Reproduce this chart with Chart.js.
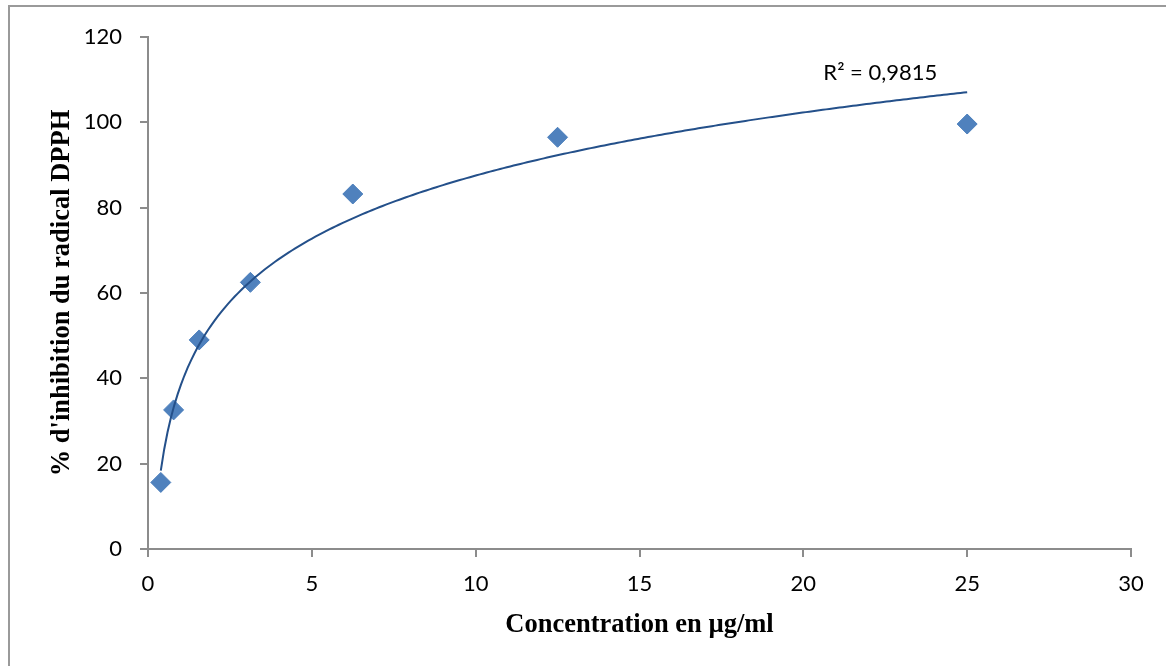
<!DOCTYPE html>
<html>
<head>
<meta charset="utf-8">
<script src="https://cdn.jsdelivr.net/npm/chart.js@4/dist/chart.umd.min.js"></script>
<style>
  html, body { margin: 0; padding: 0; background: #fff; }
  #wrap { position: relative; width: 1166px; height: 666px; overflow: hidden; }
  #frame { position: absolute; left: 8px; top: 5px; width: 1200px; height: 700px; border: 2px solid #9a9a9a; }
  canvas { position: absolute; left: 0; top: 0; }
</style>
</head>
<body>
<div id="wrap">
  <div id="frame"></div>
  <canvas id="c" width="1166" height="666"></canvas>
</div>
<script>
// concentrations (µg/ml) and % inhibition
const concentrations = [0.390625, 0.78125, 1.5625, 3.125, 6.25, 12.5, 25]
const inhibition = [15.6, 32.6, 49.0, 62.5, 83.2, 96.5, 99.6]
const r2Label = "R² = 0,9815"
const r2Pos = { x: 22.35, y: 111.6 }

const AXIS = "#8c8c8c"
const TICK_FONT = { family: "Lato, 'Open Sans', sans-serif", size: 22 }
const TITLE_FONT = { family: "'Liberation Serif', 'Times New Roman', serif", size: 26.5, weight: "bold" }

// logarithmic trendline y = a ln(x) + b, least squares on the points
function logFit(xs, ys) {
  const lx = xs.map(Math.log)
  const n = xs.length
  const mx = lx.reduce((s, v) => s + v, 0) / n
  const my = ys.reduce((s, v) => s + v, 0) / n
  let sxy = 0, sxx = 0
  lx.forEach((v, i) => { sxy += (v - mx) * (ys[i] - my); sxx += (v - mx) * (v - mx) })
  const a = sxy / sxx
  return { a, b: my - a * mx }
}

const fit = logFit(concentrations, inhibition)
const xStart = concentrations[0], xEnd = concentrations[concentrations.length - 1]
const trend = []
for (let i = 0; i <= 240; i++) {
  const x = xStart + (xEnd - xStart) * i / 240
  trend.push({ x, y: fit.a * Math.log(x) + fit.b })
}

const r2Plugin = {
  id: "r2",
  afterDatasetsDraw(chart) {
    const { ctx, scales } = chart
    ctx.save()
    ctx.font = `${TICK_FONT.size}px ${TICK_FONT.family}`
    ctx.fillStyle = "#000"
    ctx.textAlign = "center"
    ctx.textBaseline = "middle"
    ctx.fillText(r2Label, scales.x.getPixelForValue(r2Pos.x), scales.y.getPixelForValue(r2Pos.y))
    ctx.restore()
  }
}

new Chart(document.getElementById("c"), {
  type: "scatter",
  data: {
    datasets: [
      {
        label: "trend",
        data: trend,
        showLine: true,
        borderColor: "#24508a",
        borderWidth: 2,
        pointRadius: 0,
        tension: 0,
        fill: false
      },
      {
        label: "DPPH",
        data: concentrations.map((x, i) => ({ x, y: inhibition[i] })),
        pointStyle: "rectRot",
        pointRadius: 10,
        pointHoverRadius: 10,
        backgroundColor: "#4f81bd",
        borderColor: "#4a7ebb",
        borderWidth: 1,
        clip: false
      }
    ]
  },
  options: {
    responsive: false,
    animation: false,
    events: [],
    layout: { padding: { left: 0, top: 37, right: 35, bottom: 0 } },
    plugins: { legend: { display: false }, tooltip: { enabled: false } },
    scales: {
      x: {
        type: "linear",
        min: 0, max: 30,
        afterFit: s => { s.height = 117 },
        ticks: { stepSize: 5, color: "#000", font: TICK_FONT, padding: 14 },
        grid: { drawOnChartArea: false, drawTicks: true, tickLength: 8, color: AXIS, lineWidth: 2 },
        border: { color: AXIS, width: 2 },
        title: {
          display: true, text: "Concentration en µg/ml", color: "#000", font: TITLE_FONT,
          padding: { top: 0, bottom: 25 }
        }
      },
      y: {
        min: 0, max: 120,
        afterFit: s => { s.width = 148 },
        ticks: { stepSize: 20, color: "#000", font: TICK_FONT, padding: 18 },
        grid: { drawOnChartArea: false, drawTicks: true, tickLength: 8, color: AXIS, lineWidth: 2 },
        border: { color: AXIS, width: 2 },
        title: {
          display: true, text: "% d'inhibition du radical DPPH", color: "#000", font: TITLE_FONT,
          padding: { top: 46, bottom: 0 }
        }
      }
    }
  },
  plugins: [r2Plugin]
})
</script>
</body>
</html>
